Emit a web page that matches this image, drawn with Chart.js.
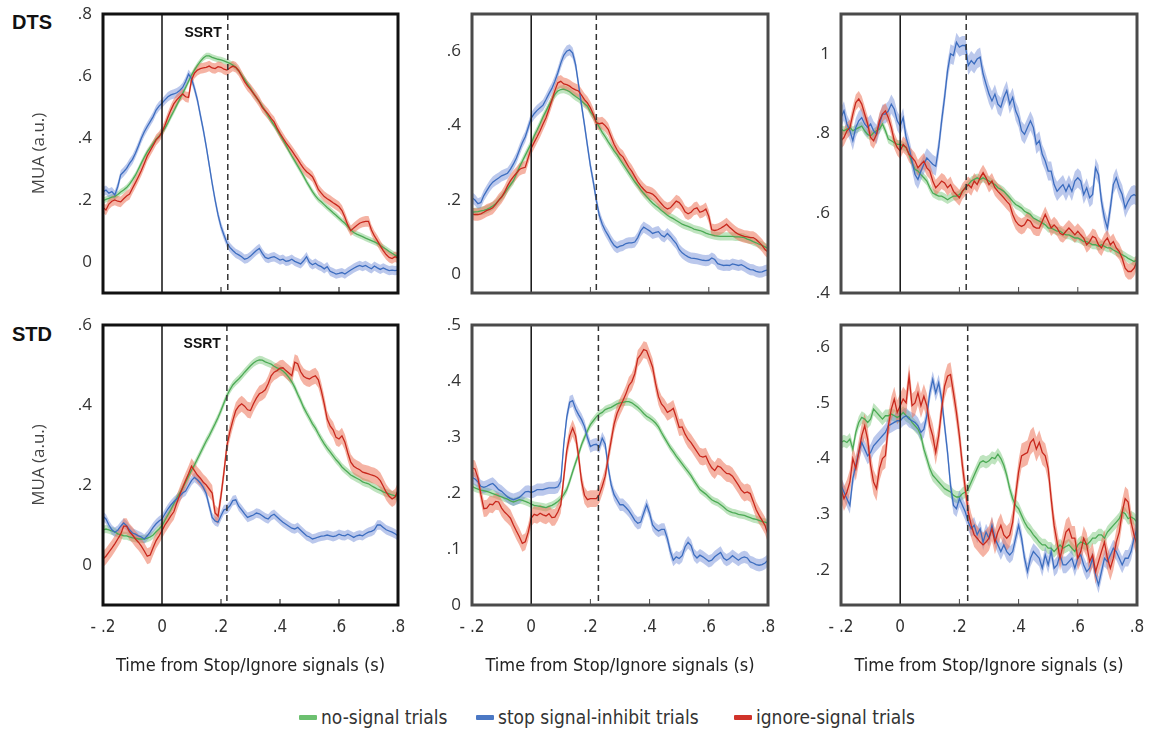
<!DOCTYPE html>
<html>
<head>
<meta charset="utf-8">
<title>MUA around Stop/Ignore signals</title>
<script src="https://cdn.jsdelivr.net/npm/chart.js@4.4.1/dist/chart.umd.min.js"></script>
<style>
  html, body { margin: 0; padding: 0; background: #fff; }
  #fig { position: relative; width: 1152px; height: 729px; overflow: hidden; }
  .panel { position: absolute; line-height: 0; }
  .rowlab { position: absolute; left: 12px; font: bold 20px "Liberation Sans", Arial, sans-serif; color: #111; line-height: 20px; }
  .leg { position: absolute; top: 707px; font: 19px "Liberation Sans Narrow", "DejaVu Sans Condensed", sans-serif; color: #333; line-height: 20px; white-space: nowrap; }
  .leg i { display: inline-block; width: 18px; height: 5px; vertical-align: middle; margin-right: 4px; border-radius: 1px; position: relative; top: -1px; }
</style>
</head>
<body>
<div id="fig">
  <div class="rowlab" style="top:12px">DTS</div>
  <div class="rowlab" style="top:324px">STD</div>
  <div class="leg" style="left:299px"><i style="background:#6cc070"></i>no-signal trials</div>
  <div class="leg" style="left:476px"><i style="background:#4b78c4"></i>stop signal-inhibit trials</div>
  <div class="leg" style="left:734px"><i style="background:#d0332a"></i>ignore-signal trials</div>
</div>
<script>
// ------- Dados -------
// tempo (s), passo de 10 ms
const timeSec = [
  -0.2, -0.19, -0.18, -0.17, -0.16, -0.15, -0.14, -0.13, -0.12, -0.11,
  -0.1, -0.09, -0.08, -0.07, -0.06, -0.05, -0.04, -0.03, -0.02, -0.01,
  0, 0.01, 0.02, 0.03, 0.04, 0.05, 0.06, 0.07, 0.08, 0.09,
  0.1, 0.11, 0.12, 0.13, 0.14, 0.15, 0.16, 0.17, 0.18, 0.19,
  0.2, 0.21, 0.22, 0.23, 0.24, 0.25, 0.26, 0.27, 0.28, 0.29,
  0.3, 0.31, 0.32, 0.33, 0.34, 0.35, 0.36, 0.37, 0.38, 0.39,
  0.4, 0.41, 0.42, 0.43, 0.44, 0.45, 0.46, 0.47, 0.48, 0.49,
  0.5, 0.51, 0.52, 0.53, 0.54, 0.55, 0.56, 0.57, 0.58, 0.59,
  0.6, 0.61, 0.62, 0.63, 0.64, 0.65, 0.66, 0.67, 0.68, 0.69,
  0.7, 0.71, 0.72, 0.73, 0.74, 0.75, 0.76, 0.77, 0.78, 0.79,
  0.8
];
const xTickVals = [-0.2, 0, 0.2, 0.4, 0.6, 0.8];

// DTS, coluna 1
const dtsA_noSignal = [
  0.198, 0.202, 0.205, 0.209, 0.211, 0.218, 0.226, 0.232, 0.24, 0.251,
  0.265, 0.28, 0.299, 0.319, 0.338, 0.355, 0.369, 0.383, 0.396, 0.406,
  0.417, 0.432, 0.449, 0.469, 0.487, 0.506, 0.525, 0.544, 0.563, 0.583,
  0.603, 0.619, 0.634, 0.647, 0.658, 0.665, 0.665, 0.66, 0.657, 0.654,
  0.652, 0.649, 0.645, 0.641, 0.635, 0.628, 0.617, 0.603, 0.589, 0.574,
  0.56, 0.544, 0.53, 0.517, 0.503, 0.487, 0.471, 0.456, 0.441, 0.426,
  0.41, 0.394, 0.377, 0.359, 0.342, 0.326, 0.31, 0.294, 0.277, 0.259,
  0.243, 0.227, 0.213, 0.202, 0.194, 0.185, 0.176, 0.168, 0.159, 0.151,
  0.142, 0.133, 0.125, 0.114, 0.103, 0.095, 0.09, 0.086, 0.082, 0.077,
  0.073, 0.069, 0.065, 0.06, 0.054, 0.047, 0.041, 0.034, 0.028, 0.022,
  0.017
];
const dtsA_inhibit = [
  0.227, 0.232, 0.222, 0.227, 0.216, 0.243, 0.281, 0.291, 0.302, 0.318,
  0.331, 0.351, 0.374, 0.399, 0.42, 0.437, 0.453, 0.469, 0.49, 0.503,
  0.512, 0.523, 0.533, 0.539, 0.542, 0.546, 0.553, 0.563, 0.582, 0.606,
  0.592, 0.56, 0.523, 0.474, 0.426, 0.372, 0.313, 0.254, 0.2, 0.152,
  0.114, 0.087, 0.062, 0.047, 0.037, 0.028, 0.023, 0.017, 0.009, 0.012,
  0.019, 0.028, 0.037, 0.044, 0.028, 0.015, 0.011, 0.015, 0.017, 0.012,
  0.006, 0.009, 0.002, 0.004, 0.009, 0.002, -0.002, -0.006, 0.004, 0.017,
  -0.002, -0.009, -0.004, -0.011, -0.015, -0.022, -0.015, -0.03, -0.034, -0.039,
  -0.037, -0.034, -0.039, -0.032, -0.026, -0.02, -0.015, -0.011, -0.015, -0.011,
  -0.017, -0.022, -0.013, -0.019, -0.024, -0.019, -0.024, -0.028, -0.026, -0.028,
  -0.026
];
const dtsA_ignore = [
  0.176, 0.168, 0.187, 0.196, 0.2, 0.196, 0.194, 0.204, 0.213, 0.219,
  0.238, 0.256, 0.275, 0.295, 0.318, 0.342, 0.359, 0.376, 0.394, 0.404,
  0.419, 0.441, 0.467, 0.49, 0.51, 0.523, 0.533, 0.542, 0.533, 0.531,
  0.587, 0.609, 0.619, 0.624, 0.626, 0.628, 0.632, 0.626, 0.624, 0.63,
  0.628, 0.622, 0.619, 0.626, 0.632, 0.628, 0.617, 0.6, 0.582, 0.568,
  0.557, 0.544, 0.531, 0.517, 0.499, 0.488, 0.477, 0.463, 0.452, 0.432,
  0.415, 0.4, 0.385, 0.372, 0.359, 0.345, 0.331, 0.316, 0.302, 0.291,
  0.284, 0.275, 0.256, 0.234, 0.222, 0.211, 0.204, 0.198, 0.191, 0.185,
  0.178, 0.166, 0.144, 0.119, 0.101, 0.11, 0.118, 0.125, 0.129, 0.131,
  0.131, 0.103, 0.084, 0.069, 0.052, 0.037, 0.024, 0.015, 0.011, 0.017,
  0.013
];

// DTS, coluna 2
const dtsB_noSignal = [
  0.167, 0.168, 0.169, 0.171, 0.172, 0.175, 0.179, 0.184, 0.19, 0.199,
  0.208, 0.218, 0.23, 0.241, 0.252, 0.27, 0.288, 0.304, 0.32, 0.336,
  0.352, 0.372, 0.388, 0.405, 0.423, 0.439, 0.455, 0.47, 0.484, 0.493,
  0.497, 0.498, 0.495, 0.491, 0.484, 0.478, 0.473, 0.466, 0.459, 0.452,
  0.437, 0.426, 0.411, 0.396, 0.382, 0.37, 0.357, 0.345, 0.332, 0.322,
  0.309, 0.297, 0.285, 0.273, 0.261, 0.249, 0.239, 0.228, 0.218, 0.209,
  0.2, 0.192, 0.185, 0.179, 0.172, 0.166, 0.159, 0.154, 0.15, 0.145,
  0.14, 0.135, 0.132, 0.129, 0.126, 0.122, 0.12, 0.118, 0.115, 0.111,
  0.108, 0.106, 0.104, 0.103, 0.102, 0.102, 0.102, 0.102, 0.102, 0.101,
  0.101, 0.1, 0.099, 0.095, 0.092, 0.088, 0.085, 0.081, 0.078, 0.074,
  0.07
];
const dtsB_inhibit = [
  0.206, 0.2, 0.19, 0.193, 0.212, 0.225, 0.238, 0.248, 0.254, 0.259,
  0.265, 0.268, 0.272, 0.283, 0.297, 0.313, 0.334, 0.354, 0.37, 0.395,
  0.42, 0.432, 0.441, 0.448, 0.455, 0.47, 0.486, 0.5, 0.519, 0.542,
  0.568, 0.589, 0.6, 0.604, 0.595, 0.564, 0.51, 0.455, 0.402, 0.346,
  0.292, 0.248, 0.199, 0.159, 0.135, 0.118, 0.105, 0.09, 0.078, 0.072,
  0.076, 0.078, 0.083, 0.085, 0.085, 0.087, 0.099, 0.117, 0.127, 0.122,
  0.117, 0.11, 0.113, 0.115, 0.105, 0.101, 0.11, 0.102, 0.092, 0.083,
  0.067, 0.058, 0.052, 0.047, 0.044, 0.043, 0.042, 0.04, 0.038, 0.037,
  0.038, 0.044, 0.04, 0.029, 0.026, 0.024, 0.025, 0.024, 0.028, 0.026,
  0.024, 0.026, 0.022, 0.017, 0.013, 0.012, 0.008, 0.006, 0.007, 0.01,
  0.012
];
const dtsB_ignore = [
  0.163, 0.161, 0.161, 0.163, 0.167, 0.172, 0.175, 0.179, 0.188, 0.199,
  0.208, 0.221, 0.238, 0.252, 0.263, 0.272, 0.282, 0.286, 0.288, 0.314,
  0.339, 0.355, 0.37, 0.386, 0.404, 0.421, 0.444, 0.468, 0.494, 0.515,
  0.519, 0.512, 0.51, 0.506, 0.5, 0.496, 0.493, 0.482, 0.47, 0.461,
  0.448, 0.43, 0.407, 0.405, 0.407, 0.4, 0.39, 0.37, 0.35, 0.335,
  0.323, 0.316, 0.302, 0.288, 0.277, 0.263, 0.249, 0.238, 0.229, 0.221,
  0.219, 0.216, 0.209, 0.199, 0.19, 0.181, 0.176, 0.179, 0.188, 0.197,
  0.193, 0.183, 0.168, 0.163, 0.167, 0.176, 0.179, 0.167, 0.17, 0.176,
  0.156, 0.12, 0.118, 0.12, 0.124, 0.129, 0.135, 0.127, 0.12, 0.113,
  0.108, 0.105, 0.102, 0.101, 0.099, 0.099, 0.094, 0.086, 0.078, 0.067,
  0.06
];

// DTS, coluna 3
const dtsC_noSignal = [
  0.811, 0.807, 0.811, 0.815, 0.807, 0.811, 0.815, 0.819, 0.807, 0.798,
  0.794, 0.802, 0.807, 0.811, 0.824, 0.807, 0.786, 0.782, 0.777, 0.773,
  0.773, 0.769, 0.765, 0.748, 0.727, 0.71, 0.706, 0.697, 0.689, 0.681,
  0.664, 0.651, 0.647, 0.643, 0.643, 0.639, 0.634, 0.639, 0.643, 0.643,
  0.647, 0.655, 0.664, 0.672, 0.681, 0.685, 0.689, 0.685, 0.689, 0.685,
  0.681, 0.676, 0.672, 0.664, 0.66, 0.655, 0.647, 0.639, 0.63, 0.622,
  0.618, 0.613, 0.605, 0.601, 0.597, 0.588, 0.584, 0.58, 0.576, 0.571,
  0.563, 0.563, 0.559, 0.555, 0.555, 0.55, 0.546, 0.546, 0.542, 0.538,
  0.538, 0.534, 0.529, 0.529, 0.525, 0.521, 0.521, 0.517, 0.521, 0.517,
  0.513, 0.513, 0.508, 0.504, 0.50, 0.496, 0.492, 0.487, 0.483, 0.479,
  0.483
];
const dtsC_inhibit = [
  0.84, 0.857, 0.824, 0.807, 0.782, 0.815, 0.832, 0.84, 0.824, 0.815,
  0.824, 0.807, 0.798, 0.824, 0.849, 0.849, 0.857, 0.874, 0.861, 0.832,
  0.819, 0.84, 0.79, 0.765, 0.731, 0.697, 0.685, 0.706, 0.723, 0.739,
  0.731, 0.723, 0.718, 0.765, 0.832, 0.891, 0.958, 1.0, 0.996, 1.029,
  1.017, 1.021, 1.021, 0.971, 0.983, 0.975, 0.987, 0.992, 0.95, 0.924,
  0.899, 0.882, 0.899, 0.874, 0.866, 0.891, 0.908, 0.874, 0.891, 0.857,
  0.84, 0.807, 0.798, 0.815, 0.832, 0.815, 0.773, 0.782, 0.748, 0.731,
  0.706, 0.706, 0.672, 0.655, 0.664, 0.672, 0.655, 0.672, 0.655, 0.681,
  0.689, 0.681, 0.647, 0.664, 0.639, 0.647, 0.714, 0.697, 0.63, 0.588,
  0.563, 0.613, 0.672, 0.689, 0.664, 0.647, 0.613, 0.63, 0.643, 0.647,
  0.643
];
const dtsC_ignore = [
  0.782, 0.79, 0.807, 0.815, 0.849, 0.878, 0.887, 0.874, 0.849, 0.824,
  0.79, 0.782, 0.798, 0.832, 0.849, 0.857, 0.84, 0.815, 0.782, 0.765,
  0.756, 0.773, 0.765, 0.748, 0.74, 0.731, 0.714, 0.723, 0.731, 0.714,
  0.706, 0.681, 0.664, 0.672, 0.681, 0.676, 0.664, 0.672, 0.655, 0.647,
  0.639, 0.655, 0.664, 0.672, 0.664, 0.681, 0.672, 0.689, 0.702, 0.689,
  0.672, 0.681, 0.664, 0.655, 0.647, 0.639, 0.63, 0.622, 0.597, 0.58,
  0.571, 0.567, 0.571, 0.584, 0.58, 0.567, 0.563, 0.563, 0.58, 0.597,
  0.58, 0.563, 0.571, 0.563, 0.55, 0.546, 0.555, 0.563, 0.555, 0.546,
  0.555, 0.546, 0.538, 0.521, 0.529, 0.542, 0.538, 0.521, 0.513, 0.529,
  0.538, 0.521, 0.529, 0.513, 0.504, 0.487, 0.462, 0.454, 0.454, 0.462,
  0.479
];

// STD, coluna 1
const stdA_noSignal = [
  0.088, 0.09, 0.088, 0.085, 0.083, 0.078, 0.076, 0.073, 0.073, 0.07,
  0.068, 0.067, 0.065, 0.065, 0.065, 0.067, 0.07, 0.075, 0.083, 0.09,
  0.098, 0.112, 0.125, 0.138, 0.153, 0.167, 0.18, 0.192, 0.207, 0.222,
  0.237, 0.25, 0.265, 0.28, 0.295, 0.31, 0.323, 0.338, 0.353, 0.369,
  0.386, 0.405, 0.423, 0.438, 0.45, 0.458, 0.465, 0.473, 0.482, 0.49,
  0.498, 0.505, 0.51, 0.513, 0.512, 0.508, 0.505, 0.502, 0.497, 0.493,
  0.49, 0.485, 0.478, 0.469, 0.458, 0.444, 0.427, 0.411, 0.394, 0.38,
  0.367, 0.353, 0.342, 0.328, 0.315, 0.303, 0.292, 0.283, 0.273, 0.263,
  0.255, 0.245, 0.238, 0.232, 0.225, 0.221, 0.217, 0.213, 0.208, 0.205,
  0.203, 0.198, 0.194, 0.19, 0.187, 0.183, 0.18, 0.178, 0.175, 0.173,
  0.173
];
const stdA_inhibit = [
  0.122, 0.115, 0.1, 0.088, 0.082, 0.087, 0.097, 0.105, 0.098, 0.088,
  0.08, 0.077, 0.073, 0.07, 0.065, 0.073, 0.083, 0.094, 0.103, 0.11,
  0.115, 0.128, 0.14, 0.15, 0.158, 0.165, 0.172, 0.18, 0.185, 0.198,
  0.211, 0.219, 0.213, 0.205, 0.194, 0.178, 0.148, 0.119, 0.11, 0.107,
  0.123, 0.138, 0.14, 0.148, 0.161, 0.163, 0.147, 0.138, 0.128, 0.119,
  0.122, 0.125, 0.13, 0.128, 0.123, 0.118, 0.115, 0.123, 0.127, 0.12,
  0.113, 0.107, 0.102, 0.097, 0.092, 0.09, 0.094, 0.087, 0.08, 0.073,
  0.07, 0.065, 0.067, 0.07, 0.072, 0.073, 0.075, 0.073, 0.071, 0.073,
  0.077, 0.074, 0.073, 0.077, 0.073, 0.069, 0.073, 0.075, 0.073, 0.078,
  0.082, 0.084, 0.088, 0.1, 0.1, 0.094, 0.088, 0.085, 0.082, 0.078,
  0.073
];
const stdA_ignore = [
  0.015, 0.022, 0.032, 0.042, 0.053, 0.065, 0.077, 0.097, 0.097, 0.083,
  0.075, 0.065, 0.057, 0.047, 0.035, 0.022, 0.025, 0.044, 0.061, 0.073,
  0.086, 0.1, 0.111, 0.123, 0.133, 0.155, 0.175, 0.194, 0.211, 0.228,
  0.247, 0.236, 0.225, 0.217, 0.207, 0.2, 0.19, 0.18, 0.13, 0.122,
  0.173, 0.232, 0.298, 0.333, 0.361, 0.386, 0.397, 0.403, 0.397, 0.388,
  0.386, 0.403, 0.417, 0.428, 0.432, 0.438, 0.453, 0.473, 0.482, 0.486,
  0.492, 0.493, 0.486, 0.48, 0.473, 0.507, 0.503, 0.483, 0.472, 0.467,
  0.465, 0.47, 0.473, 0.463, 0.436, 0.403, 0.365, 0.348, 0.338, 0.319,
  0.315, 0.323, 0.307, 0.28, 0.257, 0.247, 0.242, 0.238, 0.232, 0.23,
  0.228, 0.225, 0.223, 0.219, 0.211, 0.197, 0.182, 0.172, 0.165, 0.17,
  0.186
];

// STD, coluna 2
const stdB_noSignal = [
  0.212, 0.209, 0.207, 0.205, 0.204, 0.203, 0.201, 0.199, 0.197, 0.195,
  0.193, 0.191, 0.189, 0.186, 0.184, 0.186, 0.188, 0.187, 0.185, 0.183,
  0.18, 0.178, 0.177, 0.176, 0.175, 0.174, 0.176, 0.178, 0.181, 0.185,
  0.19, 0.197, 0.206, 0.221, 0.238, 0.254, 0.269, 0.286, 0.299, 0.311,
  0.322, 0.329, 0.336, 0.341, 0.344, 0.349, 0.351, 0.353, 0.356, 0.359,
  0.361, 0.362, 0.363, 0.363, 0.361, 0.357, 0.353, 0.348, 0.342, 0.337,
  0.334, 0.33, 0.325, 0.318, 0.308, 0.299, 0.29, 0.281, 0.274, 0.266,
  0.259, 0.252, 0.245, 0.238, 0.231, 0.222, 0.214, 0.206, 0.202, 0.198,
  0.193, 0.188, 0.185, 0.183, 0.179, 0.175, 0.17, 0.167, 0.165, 0.164,
  0.162, 0.161, 0.16, 0.158, 0.156, 0.154, 0.153, 0.151, 0.149, 0.148,
  0.146
];
const stdB_inhibit = [
  0.228, 0.225, 0.22, 0.212, 0.21, 0.212, 0.215, 0.217, 0.212, 0.206,
  0.203, 0.198, 0.193, 0.19, 0.188, 0.19, 0.192, 0.197, 0.202, 0.203,
  0.201, 0.203, 0.206, 0.206, 0.206, 0.208, 0.209, 0.209, 0.209, 0.211,
  0.221, 0.287, 0.335, 0.362, 0.365, 0.35, 0.34, 0.331, 0.319, 0.299,
  0.283, 0.286, 0.287, 0.282, 0.298, 0.287, 0.246, 0.215, 0.197, 0.188,
  0.179, 0.179, 0.174, 0.168, 0.16, 0.151, 0.146, 0.148, 0.164, 0.179,
  0.164, 0.143, 0.136, 0.132, 0.135, 0.135, 0.119, 0.096, 0.08, 0.086,
  0.083, 0.088, 0.104, 0.112, 0.106, 0.09, 0.084, 0.089, 0.086, 0.082,
  0.078, 0.08, 0.086, 0.09, 0.094, 0.084, 0.08, 0.083, 0.088, 0.084,
  0.08, 0.084, 0.086, 0.084, 0.077, 0.075, 0.072, 0.071, 0.072, 0.075,
  0.08
];
const stdB_ignore = [
  0.245, 0.243, 0.227, 0.197, 0.172, 0.173, 0.18, 0.179, 0.185, 0.184,
  0.173, 0.166, 0.161, 0.155, 0.143, 0.132, 0.122, 0.11, 0.113, 0.13,
  0.155, 0.162, 0.16, 0.164, 0.161, 0.159, 0.163, 0.156, 0.157, 0.166,
  0.179, 0.227, 0.275, 0.302, 0.316, 0.302, 0.266, 0.221, 0.196, 0.188,
  0.19, 0.19, 0.19, 0.197, 0.212, 0.23, 0.263, 0.293, 0.323, 0.342,
  0.354, 0.365, 0.377, 0.392, 0.399, 0.413, 0.44, 0.447, 0.456, 0.454,
  0.44, 0.425, 0.396, 0.372, 0.359, 0.353, 0.344, 0.347, 0.351, 0.335,
  0.317, 0.318, 0.305, 0.296, 0.29, 0.282, 0.274, 0.266, 0.264, 0.266,
  0.254, 0.245, 0.24, 0.248, 0.246, 0.24, 0.235, 0.234, 0.23, 0.222,
  0.214, 0.205, 0.2, 0.202, 0.199, 0.185, 0.17, 0.16, 0.151, 0.142,
  0.126
];

// STD, coluna 3
const stdC_noSignal = [
  0.429, 0.432, 0.429, 0.435, 0.417, 0.447, 0.465, 0.474, 0.471, 0.465,
  0.471, 0.489, 0.483, 0.477, 0.471, 0.477, 0.477, 0.48, 0.477, 0.474,
  0.477, 0.483, 0.477, 0.474, 0.465, 0.459, 0.453, 0.441, 0.417, 0.40,
  0.382, 0.37, 0.364, 0.358, 0.352, 0.346, 0.343, 0.34, 0.334, 0.331,
  0.331, 0.337, 0.34, 0.346, 0.358, 0.37, 0.382, 0.393, 0.396, 0.393,
  0.396, 0.402, 0.40, 0.408, 0.40, 0.388, 0.37, 0.346, 0.328, 0.316,
  0.31, 0.298, 0.286, 0.277, 0.271, 0.263, 0.257, 0.25, 0.245, 0.245,
  0.239, 0.239, 0.233, 0.239, 0.245, 0.239, 0.242, 0.245, 0.239, 0.233,
  0.245, 0.25, 0.248, 0.245, 0.25, 0.257, 0.257, 0.263, 0.263, 0.257,
  0.268, 0.274, 0.28, 0.286, 0.292, 0.304, 0.301, 0.292, 0.295, 0.292,
  0.286
];
const stdC_inhibit = [
  0.352, 0.34, 0.328, 0.316, 0.364, 0.388, 0.411, 0.429, 0.417, 0.405,
  0.411, 0.423, 0.429, 0.435, 0.441, 0.447, 0.459, 0.462, 0.465, 0.468,
  0.468, 0.474, 0.477, 0.471, 0.468, 0.465, 0.459, 0.447, 0.453, 0.477,
  0.518, 0.542, 0.518, 0.536, 0.507, 0.459, 0.411, 0.352, 0.316, 0.31,
  0.328, 0.316, 0.304, 0.286, 0.274, 0.28, 0.263, 0.274, 0.25, 0.268,
  0.257, 0.28, 0.257, 0.245, 0.233, 0.245, 0.233, 0.227, 0.233, 0.257,
  0.28, 0.257, 0.221, 0.197, 0.221, 0.233, 0.227, 0.221, 0.203, 0.227,
  0.209, 0.233, 0.203, 0.209, 0.227, 0.209, 0.209, 0.215, 0.221, 0.203,
  0.221, 0.227, 0.209, 0.197, 0.203, 0.221, 0.191, 0.173, 0.197, 0.221,
  0.215, 0.227, 0.239, 0.233, 0.221, 0.209, 0.221, 0.221, 0.233, 0.257,
  0.274
];
const stdC_ignore = [
  0.346, 0.328, 0.34, 0.358, 0.40, 0.382, 0.411, 0.441, 0.459, 0.435,
  0.388, 0.358, 0.346, 0.382, 0.40, 0.405, 0.459, 0.489, 0.507, 0.483,
  0.495, 0.507, 0.50, 0.548, 0.495, 0.50, 0.518, 0.495, 0.512, 0.495,
  0.459, 0.441, 0.411, 0.441, 0.489, 0.53, 0.548, 0.551, 0.518, 0.483,
  0.441, 0.388, 0.346, 0.304, 0.28, 0.263, 0.257, 0.25, 0.245, 0.25,
  0.257, 0.274, 0.25, 0.268, 0.28, 0.263, 0.257, 0.263, 0.286, 0.334,
  0.376, 0.405, 0.408, 0.411, 0.429, 0.435, 0.417, 0.429, 0.411, 0.405,
  0.382, 0.328, 0.28, 0.25, 0.221, 0.245, 0.268, 0.274, 0.257, 0.257,
  0.221, 0.233, 0.257, 0.245, 0.215, 0.227, 0.197, 0.215, 0.233, 0.25,
  0.221, 0.203, 0.221, 0.25, 0.268, 0.304, 0.328, 0.322, 0.286, 0.263,
  0.245
];

// Erro padrão (meia largura da faixa): [no-signal, inhibit, ignore]
const semDtsA = [0.010, 0.015, 0.017];
const semDtsB = [0.011, 0.015, 0.017];
const semDtsC = [0.011, 0.024, 0.020];
const semStdA = [0.010, 0.012, 0.020];
const semStdB = [0.007, 0.011, 0.015];
const semStdC = [0.011, 0.015, 0.022];

// Eixo Y (limites e marcas)
const yTicksDtsA = [0, 0.2, 0.4, 0.6, 0.8];
const yTicksDtsB = [0, 0.2, 0.4, 0.6];
const yTicksDtsC = [0.4, 0.6, 0.8, 1];
const yTicksStdA = [0, 0.2, 0.4, 0.6];
const yTicksStdB = [0, 0.1, 0.2, 0.3, 0.4, 0.5];
const yTicksStdC = [0.2, 0.3, 0.4, 0.5, 0.6];

// SSRT (s)
const ssrtSec = [0.223, 0.22, 0.223, 0.22, 0.227, 0.228];

// ------- Estilo -------
const COLORS = {
  noSignal: { line: '#4caa55', band: 'rgba(112,196,112,0.45)' },
  inhibit:  { line: '#3c6dbf', band: 'rgba(104,134,212,0.45)' },
  ignore:   { line: '#c8281d', band: 'rgba(236,116,90,0.55)' }
};
const NARROW = '"Liberation Sans Narrow", "DejaVu Sans Condensed", sans-serif';
const SANS = '"Open Sans", "Liberation Sans", sans-serif';

// ------- Utilidades -------
function fmtTick(v) {
  if (v === 0) return '0';
  const s = String(Math.abs(v)).replace(/^0\./, '.');
  return v < 0 ? '- ' + s : s;
}

function points(vals, off) {
  return timeSec.map((t, i) => ({ x: t, y: vals[i] + off }));
}

function seriesSets(vals, sem, col, ord) {
  return [
    { data: points(vals, sem), borderWidth: 0, pointRadius: 0, fill: false, order: ord + 3 },
    { data: points(vals, -sem), borderWidth: 0, pointRadius: 0, fill: '-1', backgroundColor: col.band, order: ord + 3 },
    { data: points(vals, 0), borderColor: col.line, borderWidth: 1.3, pointRadius: 0, fill: false, order: ord }
  ];
}

// Linhas verticais, moldura, marcas e texto SSRT
const panelDeco = {
  id: 'panelDeco',
  afterDatasetsDraw(chart, args, o) {
    const { ctx, chartArea: a, scales: { x } } = chart;
    ctx.save();
    const x0 = x.getPixelForValue(0);
    ctx.strokeStyle = '#111';
    ctx.lineWidth = 1.5;
    ctx.beginPath(); ctx.moveTo(x0, a.top); ctx.lineTo(x0, a.bottom); ctx.stroke();

    const xs = x.getPixelForValue(o.ssrt);
    ctx.strokeStyle = '#333';
    ctx.setLineDash([6, 4]);
    ctx.beginPath(); ctx.moveTo(xs, a.top); ctx.lineTo(xs, a.bottom); ctx.stroke();
    ctx.setLineDash([]);

    ctx.lineWidth = 1;
    ctx.strokeStyle = o.frameColor;
    [0.2, 0.4, 0.6].forEach(v => {
      const px = x.getPixelForValue(v);
      ctx.beginPath(); ctx.moveTo(px, a.bottom); ctx.lineTo(px, a.bottom - 6); ctx.stroke();
    });

    ctx.lineWidth = 3;
    ctx.strokeRect(a.left, a.top, a.width, a.height);

    if (o.showSsrt) {
      ctx.font = 'bold 14px "Liberation Sans", Arial, sans-serif';
      ctx.fillStyle = '#111';
      ctx.textAlign = 'right';
      ctx.textBaseline = 'middle';
      ctx.fillText('SSRT', xs - 6, a.top + 19);
    }
    ctx.restore();
  }
};

// ------- Painéis -------
const panels = [
  { box: [103, 14, 295, 279], col: 0, row: 0, series: [dtsA_noSignal, dtsA_inhibit, dtsA_ignore], sem: semDtsA, yMin: -0.1, yMax: 0.8, yTicks: yTicksDtsA },
  { box: [472, 14, 296, 279], col: 1, row: 0, series: [dtsB_noSignal, dtsB_inhibit, dtsB_ignore], sem: semDtsB, yMin: -0.05, yMax: 0.7, yTicks: yTicksDtsB },
  { box: [841, 14, 296, 279], col: 2, row: 0, series: [dtsC_noSignal, dtsC_inhibit, dtsC_ignore], sem: semDtsC, yMin: 0.4, yMax: 1.1, yTicks: yTicksDtsC },
  { box: [103, 325, 295, 280], col: 0, row: 1, series: [stdA_noSignal, stdA_inhibit, stdA_ignore], sem: semStdA, yMin: -0.1, yMax: 0.6, yTicks: yTicksStdA },
  { box: [472, 325, 296, 280], col: 1, row: 1, series: [stdB_noSignal, stdB_inhibit, stdB_ignore], sem: semStdB, yMin: 0, yMax: 0.5, yTicks: yTicksStdB },
  { box: [841, 325, 296, 280], col: 2, row: 1, series: [stdC_noSignal, stdC_inhibit, stdC_ignore], sem: semStdC, yMin: 0.137, yMax: 0.64, yTicks: yTicksStdC }
];

const fig = document.getElementById('fig');

panels.forEach((p, idx) => {
  const [bl, bt, bw, bh] = p.box;
  const left = p.col === 0 ? 0 : bl - 70;
  const yW = bl - left;
  const xH = p.row === 1 ? 85 : 12;
  const top = bt - 12;
  const width = yW + bw + 12;
  const height = 12 + bh + xH;

  const wrap = document.createElement('div');
  wrap.className = 'panel';
  wrap.style.left = left + 'px';
  wrap.style.top = top + 'px';
  const canvas = document.createElement('canvas');
  canvas.width = width;
  canvas.height = height;
  wrap.appendChild(canvas);
  fig.appendChild(wrap);

  const datasets = [
    ...seriesSets(p.series[0], p.sem[0], COLORS.noSignal, 3),
    ...seriesSets(p.series[1], p.sem[1], COLORS.inhibit, 2),
    ...seriesSets(p.series[2], p.sem[2], COLORS.ignore, 1)
  ];

  new Chart(canvas.getContext('2d'), {
    type: 'line',
    data: { datasets },
    plugins: [panelDeco],
    options: {
      responsive: false,
      animation: false,
      devicePixelRatio: 1,
      layout: { padding: { top: 12, right: 12, left: 0, bottom: 0 } },
      plugins: {
        legend: { display: false },
        tooltip: { enabled: false },
        panelDeco: {
          ssrt: ssrtSec[idx],
          showSsrt: p.col === 0,
          frameColor: p.col === 0 ? '#111' : '#4a4a4a'
        }
      },
      scales: {
        x: {
          type: 'linear',
          min: -0.2,
          max: 0.8,
          afterFit(s) { s.height = xH; s.paddingLeft = 0; s.paddingRight = 0; },
          afterBuildTicks(s) { s.ticks = xTickVals.map(v => ({ value: v })); },
          grid: { display: false, drawTicks: false },
          border: { display: false },
          ticks: {
            display: p.row === 1,
            padding: 12,
            color: '#333',
            font: { family: NARROW, size: 17 },
            maxRotation: 0,
            callback: fmtTick
          },
          title: {
            display: p.row === 1,
            text: 'Time from Stop/Ignore signals (s)',
            color: '#222',
            font: { family: NARROW, size: 18 },
            padding: { top: 0, bottom: 13 }
          }
        },
        y: {
          min: p.yMin,
          max: p.yMax,
          afterFit(s) { s.width = yW; s.paddingTop = 0; s.paddingBottom = 0; },
          afterBuildTicks(s) { s.ticks = p.yTicks.map(v => ({ value: v })); },
          grid: { display: false, drawTicks: false },
          border: { display: false },
          ticks: {
            padding: 11,
            color: '#333',
            font: { family: SANS, size: 17 },
            callback: fmtTick
          },
          title: {
            display: p.col === 0,
            text: 'MUA (a.u.)',
            color: '#444',
            font: { family: SANS, size: 17 },
            padding: { top: 29, bottom: 0 }
          }
        }
      }
    }
  });
});
</script>
</body>
</html>
